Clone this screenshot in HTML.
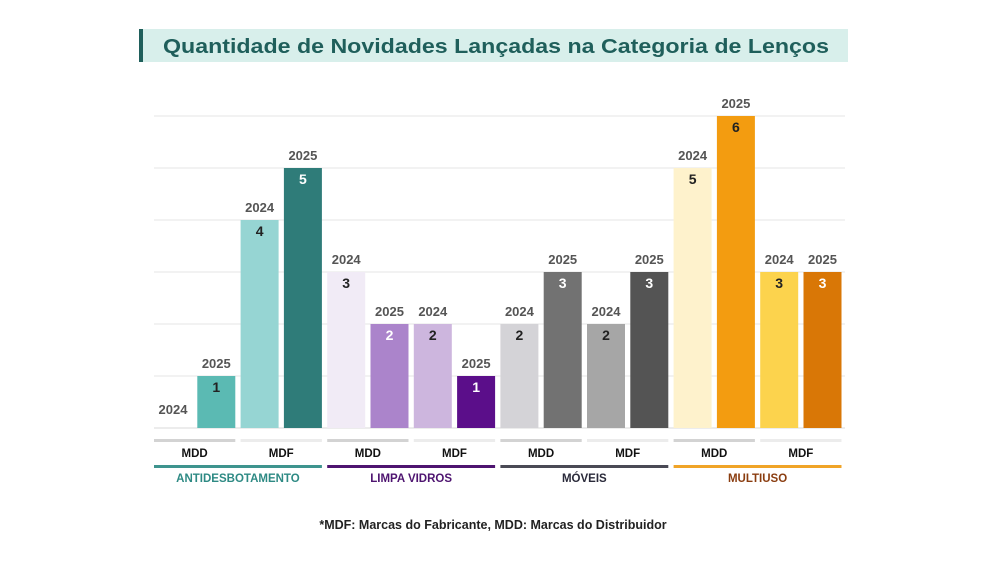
<!DOCTYPE html>
<html><head><meta charset="utf-8"><style>
body{margin:0;background:#fff;width:1000px;height:563px;overflow:hidden;font-family:"Liberation Sans",sans-serif}
text{font-family:"Liberation Sans",sans-serif;font-weight:bold}
</style></head><body>
<svg id="chart" width="1000" height="563" xmlns="http://www.w3.org/2000/svg">
<rect x="139" y="29" width="709" height="33" fill="#d8efeb"/>
<rect x="139" y="29" width="4" height="33" fill="#1f5f5b"/>
<text x="163" y="53" font-size="20" fill="#1f5f5b" textLength="666" lengthAdjust="spacingAndGlyphs">Quantidade de Novidades Lançadas na Categoria de Lenços</text>
<g id="grid"></g><g id="bars"></g><g id="axis"></g>
<text x="493" y="529" font-size="12.5" text-anchor="middle" fill="#222" font-weight="normal"><tspan font-weight="bold">*MDF:</tspan> Marcas do Fabricante, <tspan font-weight="bold">MDD:</tspan> Marcas do Distribuidor</text>
</svg>
<script>
const categories=["ANTIDESBOTAMENTO","LIMPA VIDROS","MÓVEIS","MULTIUSO"];
const subgroups=["MDD","MDF"];
const years=["2024","2025"];
const values=[0,1,4,5, 3,2,2,1, 2,3,2,3, 5,6,3,3];
const barColors=["#5bbab3","#5bbab3","#96d5d3","#2f7c79","#f1ebf6","#ab84cb","#cdb6de","#5b0e8a","#d4d3d7","#727272","#a6a6a6","#545454","#fef2cc","#f39c10","#fcd34d","#d97706"];
const valueColors=["#222","#222","#222","#fff","#222","#fff","#222","#fff","#222","#fff","#222","#fff","#222","#222","#222","#fff"];
const catColors=["#3e948e","#4e1470","#4a4a55","#f0a428"];
const catText=["#2e8a84","#4e1470","#2a2a3a","#8a3d10"];
const gridTicks=[0,1,2,3,4,5,6];
const NS="http://www.w3.org/2000/svg";
const x0=154,pitch=43.3,bw=38,base=428,unit=52;
const y=v=>base-v*unit, x=i=>x0+i*pitch;
function mk(tag,attrs,parent,txt){const e=document.createElementNS(NS,tag);for(const k in attrs)e.setAttribute(k,attrs[k]);if(txt!==undefined)e.textContent=txt;document.getElementById(parent).appendChild(e);return e;}
gridTicks.forEach(t=>{const l=mk('line',{x1:154,x2:845,y1:y(t),y2:y(t),stroke:t===0?'#d8d8d8':'#e6e6e6','stroke-width':1},'grid');

});
values.forEach((v,i)=>{
 const r=mk('rect',{x:x(i),y:y(v),width:bw,height:base-y(v),fill:barColors[i]},'bars');
 
 
 const yl=mk('text',{x:x(i)+bw/2,y:v===0?base-14:y(v)-8,'font-size':13,'text-anchor':'middle',fill:'#555','font-weight':'normal'},'bars',years[i%2]);
 
 
 if(v>0){const vl=mk('text',{x:x(i)+bw/2,y:y(v)+16,'font-size':14,'text-anchor':'middle',fill:valueColors[i]},'bars',String(v));
 
 }
});
categories.forEach((c,ci)=>{
 subgroups.forEach((s,si)=>{const k=ci*2+si;const sx=x(k*2),ex=x(k*2+1)+bw;
  const l=mk('rect',{x:sx,y:439,width:ex-sx,height:3,fill:si?'#ececec':'#d3d3d3'},'axis');
  
  
  const t=mk('text',{x:(sx+ex)/2,y:457,'font-size':11.5,'text-anchor':'middle',fill:'#111'},'axis',s);
  
  });
 const sx=x(ci*4),ex=x(ci*4+3)+bw;
 const l=mk('rect',{x:sx,y:465,width:ex-sx,height:3,fill:catColors[ci]},'axis');
 
 
 const t=mk('text',{x:(sx+ex)/2,y:482,'font-size':11.5,'text-anchor':'middle',fill:catText[ci]},'axis',c);
 
 
});
</script>
</body></html>
